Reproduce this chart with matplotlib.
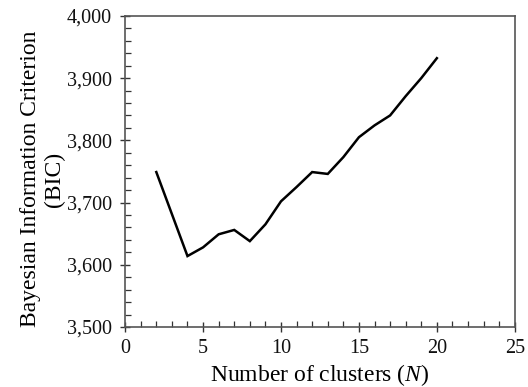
import matplotlib
matplotlib.use("Agg")
import matplotlib.pyplot as plt
from matplotlib.ticker import MultipleLocator, FuncFormatter

plt.rcParams['font.family'] = ['Liberation Serif', 'DejaVu Serif']
plt.rcParams['mathtext.fontset'] = 'custom'
plt.rcParams['mathtext.it'] = 'Liberation Serif:italic'
plt.rcParams['mathtext.rm'] = 'Liberation Serif'

n_clusters = [2, 4, 5, 6, 7, 8, 9, 10, 11, 12, 13, 14, 15, 16, 17, 18, 19, 20]
bic = [3749, 3614, 3628, 3649, 3656, 3638, 3665, 3702, 3725, 3749, 3746,
       3773, 3805, 3824, 3840, 3871, 3900, 3932]

fig = plt.figure(figsize=(5.28, 3.87), dpi=100)
ax = fig.add_axes([0.237, 0.155, 0.738, 0.804])

ax.plot(n_clusters, bic, color='black', lw=1.8, solid_joinstyle='miter')

ax.set_xlim(0, 25)
ax.set_ylim(3500, 4000)
ax.xaxis.set_major_locator(MultipleLocator(5))
ax.xaxis.set_minor_locator(MultipleLocator(1))
ax.yaxis.set_major_locator(MultipleLocator(100))
ax.yaxis.set_minor_locator(MultipleLocator(20))
ax.yaxis.set_major_formatter(FuncFormatter(lambda v, p: f"{int(v):,}"))

ax.tick_params(which='major', direction='inout', length=7, width=1.0,
               labelsize=14.5, color='#333333', labelcolor='#111111')
ax.tick_params(which='minor', direction='in', length=4, width=0.9,
               color='#333333')
ax.tick_params(axis='x', pad=5)
ax.tick_params(axis='y', pad=6)

for s in ax.spines.values():
    s.set_color('#555555')
    s.set_linewidth(1.2)

ax.set_xlabel('Number of clusters ($N$)', fontsize=17, labelpad=3)
ax.set_ylabel('Bayesian Information Criterion\n(BIC)', fontsize=17,
              linespacing=1.15)
ax.yaxis.set_label_coords(-0.155, 0.475)

fig.savefig('out.png', dpi=100, facecolor='white')
